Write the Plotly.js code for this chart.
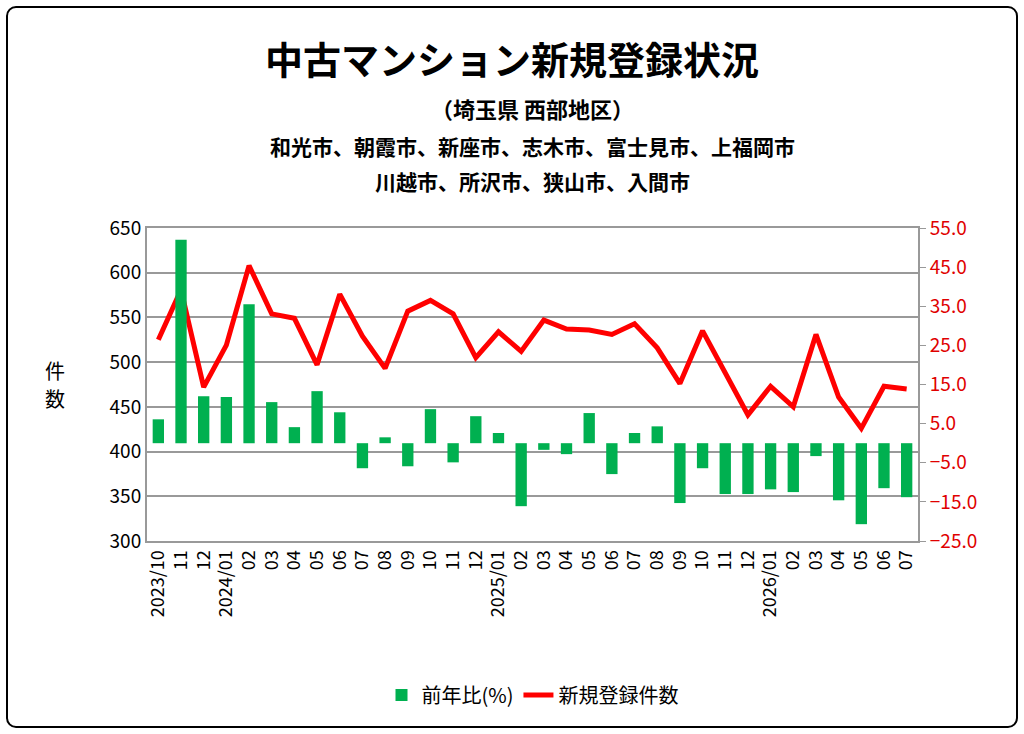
<!DOCTYPE html>
<html><head><meta charset="utf-8">
<script src="https://cdn.plot.ly/plotly-3.0.1.min.js"></script>
<style>body{margin:0;background:#fff}#c{width:1024px;height:734px}
#frame{position:absolute;left:6px;top:6px;width:1008px;height:718px;border:2px solid #000;border-radius:10px;pointer-events:none}</style>
</head><body><div id="c"></div><div id="frame"></div>
<script>
const months = ["2023/10","2023/11","2023/12","2024/01","2024/02","2024/03","2024/04","2024/05","2024/06","2024/07","2024/08","2024/09","2024/10","2024/11","2024/12",
 "2025/01","2025/02","2025/03","2025/04","2025/05","2025/06","2025/07","2025/08","2025/09","2025/10","2025/11","2025/12",
 "2026/01","2026/02","2026/03","2026/04","2026/05","2026/06","2026/07"];
const tickLabels = ["2023/10","11","12","2024/01","02","03","04","05","06","07","08","09","10","11","12",
 "2025/01","02","03","04","05","06","07","08","09","10","11","12","2026/01","02","03","04","05","06","07"];
const newListings = [525,581,472,519,608,554,549,497,576,529,493,557,569,554,505,534,512,547,537,536,531,543,516,476,535,487,441,473,450,531,461,426,473,470];
const yoyPct = [6.1,52,12,11.8,35.5,10.5,4.1,13.3,7.9,-6.4,1.5,-5.9,8.7,-4.9,6.9,2.6,-16.1,-1.7,-2.8,7.7,-7.9,2.6,4.3,-15.3,-6.4,-13,-13,-11.8,-12.5,-3.3,-14.6,-20.7,-11.5,-13.8];
const rightTicks = [55,45,35,25,15,5,-5,-15,-25];

const font = {family:"Noto Sans CJK JP, sans-serif", color:"#000"};
Plotly.newPlot("c", [
  {x:months, y:yoyPct, type:"bar", name:"前年比(%)", yaxis:"y2", marker:{color:"#00b050"}, width:0.5},
  {x:months, y:newListings, type:"scatter", mode:"lines", name:"新規登録件数", line:{color:"#ff0000", width:5}}
], {
  width:1024, height:734, paper_bgcolor:"#fff", plot_bgcolor:"#fff", font:font,
  margin:{l:147, r:106, t:228, b:193},
  title:{text:"<b>中古マンション新規登録状況</b>", x:0.5, y:0.935, font:{size:38}},
  annotations:[
    {text:"<b>（埼玉県 西部地区）</b>", xref:"paper", yref:"paper", x:0.5, y:1.0, yshift:138, showarrow:false, font:{size:22}, xanchor:"center"},
    {text:"<b>和光市、朝霞市、新座市、志木市、富士見市、上福岡市</b>", xref:"paper", yref:"paper", x:0.5, yshift:99, y:1.0, showarrow:false, font:{size:21}},
    {text:"<b>川越市、所沢市、狭山市、入間市</b>", xref:"paper", yref:"paper", x:0.5, yshift:64, y:1.0, showarrow:false, font:{size:21}},
    {text:"件", xref:"paper", yref:"paper", x:-0.135, y:0.5, yshift:14, showarrow:false, font:{size:20}, xanchor:"left"},
    {text:"数", xref:"paper", yref:"paper", x:-0.135, y:0.5, yshift:-14, showarrow:false, font:{size:20}, xanchor:"left"}
  ],
  xaxis:{type:"category", tickvals:months, ticktext:tickLabels, tickangle:-90, tickfont:{size:18},
    showline:true, linecolor:"#999", linewidth:2, mirror:true, ticks:"", showgrid:false},
  yaxis:{range:[300,650], dtick:50, tickfont:{size:19}, gridcolor:"#999", gridwidth:2, showline:true, linecolor:"#999", linewidth:2, zeroline:false},
  yaxis2:{overlaying:"y", side:"right", range:[-25,55], tickvals:rightTicks, tickformat:".1f", tickfont:{size:19, color:"#e00000"},
    showgrid:false, zeroline:false, ticks:"outside", tickcolor:"#999", ticklen:6, showline:true, linecolor:"#999", linewidth:2},
  legend:{orientation:"h", x:0.5, xanchor:"center", y:-0.43, font:{size:20}},
  bargap:0.5, showlegend:true
}, {staticPlot:true});
</script></body></html>
